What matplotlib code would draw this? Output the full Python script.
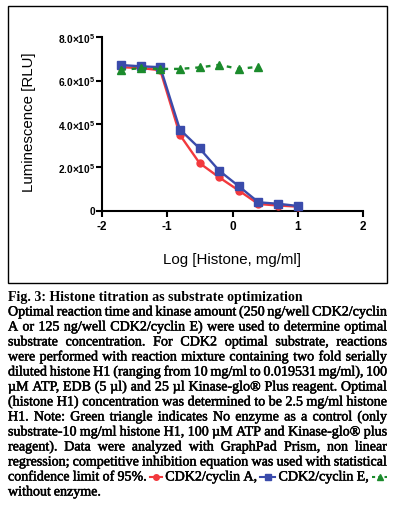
import matplotlib
matplotlib.use("Agg")
import matplotlib.pyplot as plt
import matplotlib.patheffects as pe
from matplotlib.lines import Line2D
from matplotlib.patches import Rectangle
from matplotlib.ticker import FuncFormatter

plt.rcParams["axes.unicode_minus"] = False
plt.rcParams["mathtext.fontset"] = "custom"
plt.rcParams["mathtext.rm"] = "Liberation Sans:bold"
plt.rcParams["mathtext.bf"] = "Liberation Sans:bold"

# Log of histone H1 concentration (two fold dilutions from 10 mg/ml)
log_histone = [-1.709, -1.408, -1.107, -0.806, -0.505, -0.204, 0.097, 0.398, 0.699, 1.0]

# Luminescence [RLU]
cyclin_a = [6.62e5, 6.58e5, 6.48e5, 3.49e5, 2.19e5, 1.53e5, 0.92e5, 0.30e5, 0.23e5, 0.18e5]
cyclin_e = [6.72e5, 6.66e5, 6.62e5, 3.74e5, 2.87e5, 1.84e5, 1.12e5, 0.38e5, 0.31e5, 0.21e5]
no_enzyme = [6.50e5, 6.57e5, 6.54e5, 6.54e5, 6.61e5, 6.73e5, 6.54e5, 6.64e5]

x_ticks = [-2, -1, 0, 1, 2]
y_ticks = [0, 2e5, 4e5, 6e5, 8e5]

red = "#f2393d"
blue = "#3a4bab"
green = "#1b8b2c"

W, H = 398, 506
fig = plt.figure(figsize=(W / 100, H / 100), dpi=100)

def fx(px):
    return px / W

def fy(py):
    return 1 - py / H

# frame around the chart panel
fig.patches.append(Rectangle((fx(8), fy(284)), fx(379), 277 / H, transform=fig.transFigure,
                             fill=False, edgecolor="black", linewidth=1.0))

ax = fig.add_axes([fx(102), fy(211.5), fx(261), (211.5 - 38.3) / H])
ax.plot(log_histone, cyclin_a, color=red, marker="o", markersize=5, linewidth=1.7, zorder=3)
ax.plot(log_histone, cyclin_e, color=blue, marker="s", markersize=6, linewidth=1.7, zorder=4)
ax.plot(log_histone[:len(no_enzyme)], no_enzyme, color=green, marker="^", markersize=5.5,
        linewidth=1.7, linestyle=(0, (2, 2.5)), zorder=5)

ax.set_xlim(-2, 2)
ax.set_ylim(0, 8e5)
ax.set_xticks(x_ticks)
ax.set_yticks(y_ticks)

def ylab(v, pos):
    if v == 0:
        return "0"
    return "%.1f$\\times$10$^{5}$" % (v / 1e5)

ax.yaxis.set_major_formatter(FuncFormatter(ylab))
ax.spines["right"].set_visible(False)
ax.spines["top"].set_visible(False)
ax.spines["left"].set_linewidth(1.5)
ax.spines["bottom"].set_linewidth(1.5)
ax.tick_params(axis="both", direction="out", length=4, width=1.5)
ax.tick_params(axis="y", pad=1)
ax.tick_params(axis="x", pad=3)
for t in ax.get_xticklabels():
    t.set_fontfamily("Liberation Sans")
    t.set_fontweight("bold")
    t.set_fontsize(8.5)
for t in ax.get_yticklabels():
    t.set_fontfamily("Liberation Sans")
    t.set_fontweight("bold")
    t.set_fontsize(7.3)

fig.text(fx(29), fy(121.7), "Luminescence [RLU]", rotation=90, ha="center", va="center",
         fontsize=10.8, family="Liberation Sans")
fig.text(fx(232.5), fy(260), "Log [Histone, mg/ml]", ha="center", va="center",
         fontsize=10.8, family="Liberation Sans")

# caption below the panel, justified between the margins
title = "Fig. 3: Histone titration as substrate optimization"
caption = [
    "Optimal reaction time and kinase amount (250 ng/well CDK2/cyclin",
    "A or 125 ng/well CDK2/cyclin E) were used to determine optimal",
    "substrate concentration. For CDK2 optimal substrate, reactions",
    "were performed with reaction mixture containing two fold serially",
    "diluted histone H1 (ranging from 10 mg/ml to 0.019531 mg/ml), 100",
    "\u00b5M ATP, EDB (5 \u00b5l) and 25 \u00b5l Kinase-glo\u00ae Plus reagent. Optimal",
    "(histone H1) concentration was determined to be 2.5 mg/ml histone",
    "H1. Note: Green triangle indicates No enzyme as a control (only",
    "substrate-10 mg/ml histone H1, 100 \u00b5M ATP and Kinase-glo\u00ae plus",
    "reagent). Data were analyzed with GraphPad Prism, non linear",
    "regression; competitive inhibition equation was used with statistical",
    "confidence limit of 95%. @red CDK2/cyclin A, @blue CDK2/cyclin E, @green",
    "without enzyme.",
]
symbols = {
    "@red": dict(color=red, marker="o", linestyle="-", width=12),
    "@blue": dict(color=blue, marker="s", linestyle="-", width=15),
    "@green": dict(color=green, marker="^", linestyle=(0, (1.5, 1.5)), width=15),
}

left, right = 8, 387
base0, step = 301.5, 15.0
renderer = fig.canvas.get_renderer()

# measure words at a reference size, then pick the largest size where every line fits
ref_size = 10.0
measured = []
for line in caption:
    row = []
    for w in line.split(" "):
        if w in symbols:
            row.append((w, symbols[w]["width"], True))
        else:
            t = fig.text(0, 0, w, family="Liberation Serif", fontsize=ref_size)
            row.append((w, t.get_window_extent(renderer).width, False))
            t.remove()
    measured.append(row)

size = 12.0
while size > 7:
    ok = True
    for i, row in enumerate(measured[:-1]):
        tot = sum(wd * (size / ref_size) if not sym else wd for _, wd, sym in row)
        if tot + 2.6 * (len(row) - 1) > right - left:
            ok = False
    if ok:
        break
    size -= 0.1

# the scanned caption is printed heavier than plain Times, thicken it a bit
heavy = [pe.withStroke(linewidth=0.35, foreground="black")]
cap_font = dict(family="Liberation Serif", fontsize=size, color="black")
fig.text(fx(left), fy(base0), title, ha="left", va="baseline", fontweight="bold", **cap_font)

for i, row in enumerate(measured):
    y = base0 + step * (i + 1)
    widths = [wd * (size / ref_size) if not sym else wd for _, wd, sym in row]
    if i == len(measured) - 1:
        gap = 3.0
    else:
        gap = (right - left - sum(widths)) / (len(row) - 1)
    x = left
    for (w, _, sym), wd in zip(row, widths):
        if not sym:
            fig.text(fx(x), fy(y), w, ha="left", va="baseline", path_effects=heavy, **cap_font)
        else:
            s = symbols[w]
            yy = fy(y - 3.5)
            fig.lines.append(Line2D([fx(x), fx(x + wd)], [yy, yy], transform=fig.transFigure,
                                    color=s["color"], linewidth=1.5, linestyle=s["linestyle"]))
            fig.lines.append(Line2D([fx(x + wd / 2)], [yy], transform=fig.transFigure,
                                    color=s["color"], marker=s["marker"], markersize=4,
                                    linestyle="none"))
        x += wd + gap

fig.savefig("out.png", dpi=100)
